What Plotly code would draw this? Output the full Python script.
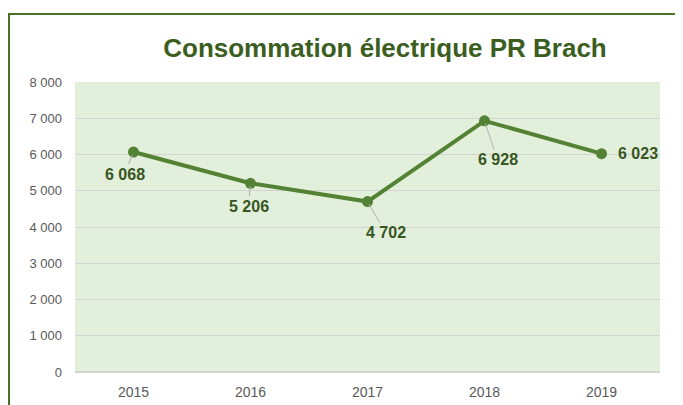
import plotly.graph_objects as go

years = ["2015", "2016", "2017", "2018", "2019"]
values = [6068, 5206, 4702, 6928, 6023]
labels = ["6 068", "5 206", "4 702", "6 928", "6 023"]
ytick_vals = [0, 1000, 2000, 3000, 4000, 5000, 6000, 7000, 8000]
ytick_text = ["0", "1 000", "2 000", "3 000", "4 000", "5 000", "6 000", "7 000", "8 000"]

# page body has an 8px margin: work in screen coords, shifted by OFF
OFF = 8
W, H = 683 - OFF, 405 - OFF
ML = 75 - OFF
MT = 82 - OFF
MR = W - (660 - OFF)
MB = H - (372 - OFF)
PW, PH = W - ML - MR, H - MT - MB

def px(x):  # screen x -> paper
    return (x - OFF - ML) / PW

def py(y):  # screen y -> paper
    return 1 - (y - OFF - MT) / PH

fig = go.Figure()
fig.add_trace(go.Scatter(
    x=years, y=values, mode="lines+markers",
    line=dict(color="#548235", width=4),
    marker=dict(color="#548235", size=11),
    hoverinfo="skip", showlegend=False,
))

# data label offsets (pixels) relative to points
offsets = [(-9, 22), (-2, 23), (18, 31), (13, 39), (36, 0)]
leaders = [True, True, True, True, False]
for i, (v, lab, (dx, dy), ld) in enumerate(zip(values, labels, offsets, leaders)):
    font = dict(family="Liberation Sans, Arial", size=16, color="#375623")
    if ld:
        fig.add_annotation(x=i, y=v, xref="x", yref="y", text="<b>%s</b>" % lab,
                           showarrow=True, arrowhead=0, arrowwidth=1,
                           arrowcolor="#b0b0b0", ax=dx, ay=dy, standoff=3,
                           font=font)
    else:
        fig.add_annotation(x=i, y=v, xref="x", yref="y", text="<b>%s</b>" % lab,
                           showarrow=False, xshift=dx, yshift=dy, font=font)

fig.add_shape(type="rect", xref="paper", yref="paper",
              x0=px(9), x1=px(680), y0=py(430), y1=py(14),
              line=dict(color="#4a7227", width=2), fillcolor="rgba(0,0,0,0)")

fig.update_layout(
    width=W, height=H,
    margin=dict(l=ML, r=MR, t=MT, b=MB, autoexpand=False),
    paper_bgcolor="white", plot_bgcolor="#e2efda",
    title=dict(text="<b>Consommation électrique PR Brach</b>",
               x=(385 - OFF) / W, xanchor="center", y=1 - (48 - OFF) / H, yanchor="middle",
               font=dict(family="Liberation Sans, Arial", size=26, color="#3b5e1f")),
    xaxis=dict(type="category", range=[-0.5, 4.5], showgrid=False, zeroline=False,
               showline=False, ticks="", automargin=False,
               tickfont=dict(family="Liberation Sans, Arial", size=14, color="#595959"),
               ticklabelstandoff=10, fixedrange=True),
    yaxis=dict(range=[0, 8000], tickvals=ytick_vals, ticktext=ytick_text,
               showgrid=True, gridcolor="#d4d4d4", gridwidth=1, zeroline=True,
               zerolinecolor="#d4d4d4", showline=False, ticks="", automargin=False,
               tickfont=dict(family="Liberation Sans, Arial", size=13, color="#595959"),
               ticklabelstandoff=12, fixedrange=True),
)

fig.write_html("out.html")
